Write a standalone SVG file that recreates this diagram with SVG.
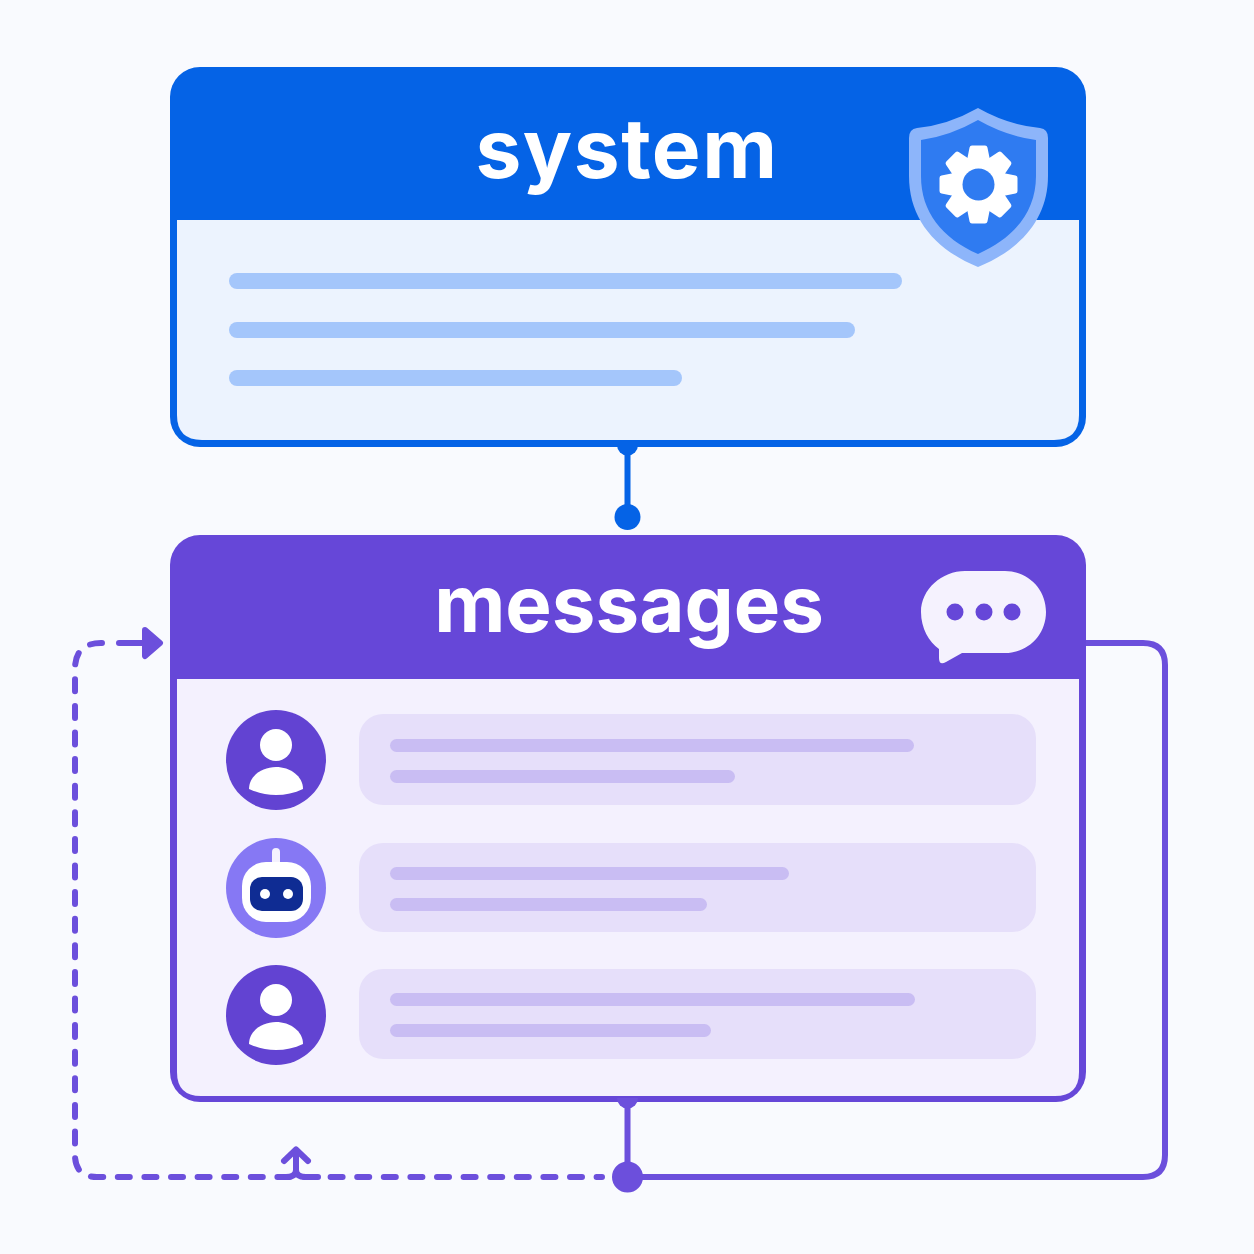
<svg xmlns="http://www.w3.org/2000/svg" width="1254" height="1254" viewBox="0 0 1254 1254">
<style>
.title{font-family:"Inter","Noto Sans",sans-serif;font-weight:700;fill:#fff;text-anchor:middle}
.blue{fill:#0563e6}.purple{fill:#6647d8}
.bar1{fill:#a4c6fb}.pill{fill:#e6dffa}.bar2{fill:#c9bdf3}
.conn{fill:none;stroke:#6c4fdc;stroke-width:6;stroke-linecap:round;stroke-linejoin:round}
.dash{stroke-dasharray:12 14.6;stroke-dashoffset:6.6}
</style>
<defs>
<g id="user"><circle r="50" cx="0" cy="0" fill="#6243d2"/><circle cx="0" cy="-15" r="16" fill="#fff"/><path d="M-27 29C-27 16-14 7 0 7S27 16 27 29C10 37-10 37-27 29Z" fill="#fff"/></g>
<path id="tooth" d="M-6.500 -36.500H6.500L9 -24H-9Z" fill="#fff" stroke="#fff" stroke-width="5" stroke-linejoin="round"/>
</defs>
<rect width="1254" height="1254" fill="#f9fafe"/>
<g id="connectors">
<path class="conn" style="stroke:#0563e6" d="M627.500 447V517"/>
<path class="conn" d="M627.500 1100V1177M627.500 1177H1143Q1165 1177 1165 1155V665Q1165 643 1143 643H1086"/>
<path class="conn dash" d="M602 1177H97Q75 1177 75 1155V669Q75 643 101 643H108"/>
<path class="conn" d="M119 643H146"/>
<path d="M145 630L160 643L145 656Z" fill="#6c4fdc" stroke="#6c4fdc" stroke-width="6" stroke-linejoin="round"/>
<path class="conn" d="M284 1161L296 1149.500L308 1161M296 1151V1170Q296 1177 286 1177M296 1170Q296 1177 306 1177H318"/>
</g>
<g id="system">
<rect x="170" y="67" width="916" height="380" rx="30" class="blue"/>
<path d="M177 220H1079V415Q1079 440 1054 440H202Q177 440 177 415Z" fill="#ecf3fe"/>
<text x="627" y="178" class="title" font-size="82" letter-spacing="1.500">system</text>
<rect x="229" y="273" width="673" height="16" rx="8" class="bar1"/>
<rect x="229" y="322" width="626" height="16" rx="8" class="bar1"/>
<rect x="229" y="370" width="453" height="16" rx="8" class="bar1"/>
<path d="M978 108Q1008 125 1040 128Q1048 129 1048 138V176C1048 218 1022 249 978 267C934 249 909 218 909 176V138Q909 129 917 128Q948 125 978 108Z" fill="#8db5fa"/>
<path d="M978 120Q1006 136 1036 140V176C1036 212 1014 238 978 254C942 238 921 212 921 176V140Q950 136 978 120Z" fill="#2f7bf1"/>
<g id="gear" transform="translate(978.500 184.500)">
<circle r="28" fill="#fff"/>
<use href="#tooth"/><use href="#tooth" transform="rotate(45)"/><use href="#tooth" transform="rotate(90)"/><use href="#tooth" transform="rotate(135)"/><use href="#tooth" transform="rotate(180)"/><use href="#tooth" transform="rotate(225)"/><use href="#tooth" transform="rotate(270)"/><use href="#tooth" transform="rotate(315)"/>
<circle r="16" fill="#2f7bf1"/>
</g>
</g>
<g id="system-port"><path d="M617 445A10.500 10.500 0 0 0 638 445Z" class="blue"/><circle cx="627.500" cy="517" r="13" class="blue"/></g>
<g id="messages">
<rect x="170" y="535" width="916" height="567" rx="30" class="purple"/>
<path d="M177 679H1079V1072Q1079 1096 1055 1096H201Q177 1096 177 1072Z" fill="#f4f1fe"/>
<text x="629" y="632" class="title" font-size="78">messages</text>
<path d="M965 571H1005C1028 571 1046 589 1046 612S1028 653 1005 653H962L946 662Q939 666 939 658V649C929 642 921 628 921 612C921 589 942 571 965 571Z" fill="#f5f2fe"/>
<circle cx="955" cy="612" r="8.500" class="purple"/><circle cx="984" cy="612" r="8.500" class="purple"/><circle cx="1012" cy="612" r="8.500" class="purple"/>
<g id="row1"><use href="#user" transform="translate(276 760)"/><rect x="359" y="714" width="677" height="91" rx="24" class="pill"/><rect x="390" y="739" width="524" height="13" rx="6.500" class="bar2"/><rect x="390" y="770" width="345" height="13" rx="6.500" class="bar2"/></g>
<g id="row2"><circle cx="276" cy="888" r="50" fill="#8678f4"/><rect x="272" y="848" width="8" height="20" rx="4" fill="#f4f1fe"/><rect x="242" y="862" width="69" height="60" rx="24" fill="#fff"/><rect x="250" y="877" width="53" height="34" rx="12" fill="#0f2c93"/><circle cx="265" cy="894" r="5" fill="#fff"/><circle cx="288" cy="894" r="5" fill="#fff"/><rect x="359" y="843" width="677" height="89" rx="24" class="pill"/><rect x="390" y="867" width="399" height="13" rx="6.500" class="bar2"/><rect x="390" y="898" width="317" height="13" rx="6.500" class="bar2"/></g>
<g id="row3"><use href="#user" transform="translate(276 1015)"/><rect x="359" y="969" width="677" height="90" rx="24" class="pill"/><rect x="390" y="993" width="525" height="13" rx="6.500" class="bar2"/><rect x="390" y="1024" width="321" height="13" rx="6.500" class="bar2"/></g>
</g>
<g id="messages-port"><path d="M617 1098A10.500 10.500 0 0 0 638 1098Z" fill="#6c4fdc"/><circle cx="627.500" cy="1177" r="15.500" fill="#6c4fdc"/></g>
</svg>
